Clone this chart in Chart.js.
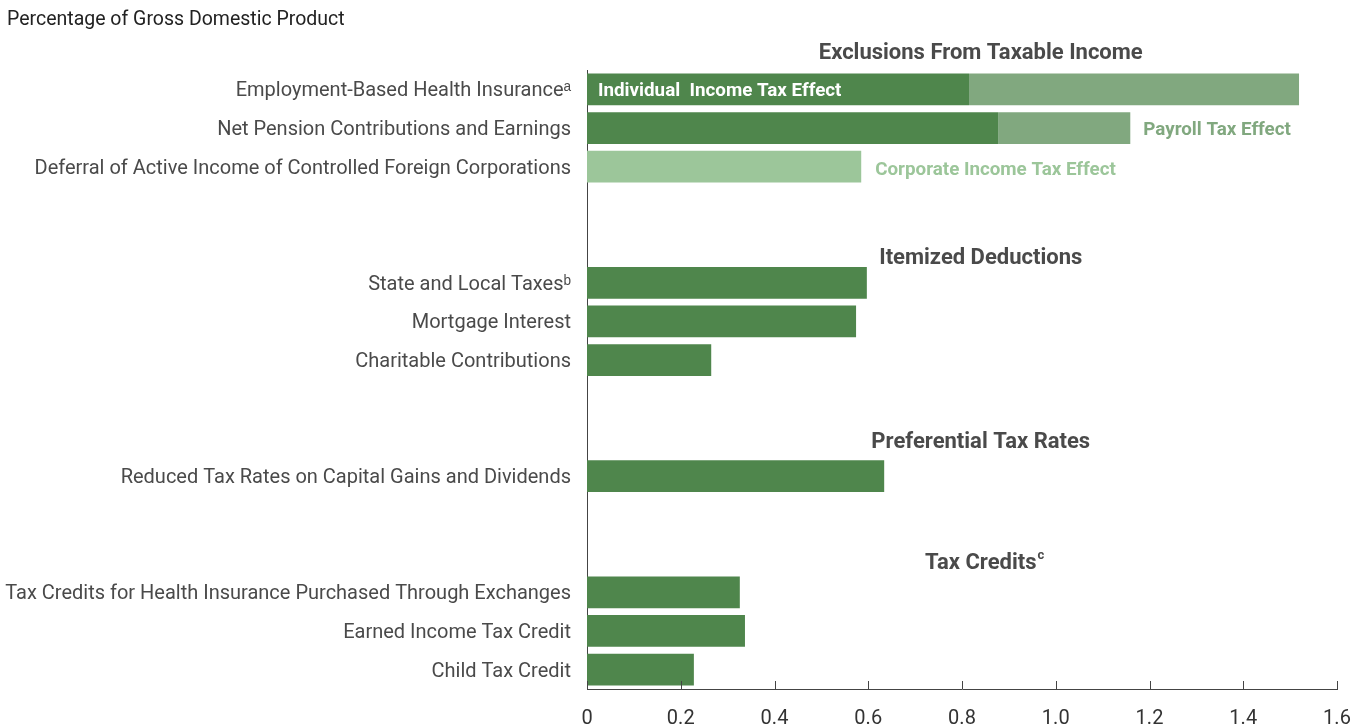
<!DOCTYPE html>
<html>
<head>
<meta charset="utf-8">
<script src="https://cdn.jsdelivr.net/npm/chart.js@4.4.1/dist/chart.umd.min.js"></script>
<style>
  html, body { margin: 0; padding: 0; background: #fff; }
  #wrap { position: relative; width: 1366px; height: 727px; }
</style>
</head>
<body>
<div id="wrap"><canvas id="taxChart" width="1366" height="727"></canvas></div>
<script>
// Rows of the chart (empty strings are the gaps between groups)
const categories = [
  "Employment-Based Health Insurance\u1D43",
  "Net Pension Contributions and Earnings",
  "Deferral of Active Income of Controlled Foreign Corporations",
  "", "",
  "State and Local Taxes\u1D47",
  "Mortgage Interest",
  "Charitable Contributions",
  "", "",
  "Reduced Tax Rates on Capital Gains and Dividends",
  "", "",
  "Tax Credits for Health Insurance Purchased Through Exchanges",
  "Earned Income Tax Credit",
  "Child Tax Credit"
];

// Percentage of GDP
const individualEffect = [0.815, 0.877, null, null, null, 0.597, 0.574, 0.265, null, null, 0.634, null, null, 0.326, 0.337, 0.228];
const payrollEffect    = [0.704, 0.282, null, null, null, null, null, null, null, null, null, null, null, null, null, null];
const corporateEffect  = [null, null, 0.585, null, null, null, null, null, null, null, null, null, null, null, null, null];

const xTicks = [0, 0.2, 0.4, 0.6, 0.8, 1.0, 1.2, 1.4, 1.6];

// group headings: [text, superscript, row position]
const groupTitles = [
  ["Exclusions From Taxable Income", "", -0.97],
  ["Itemized Deductions", "", 4.33],
  ["Preferential Tax Rates", "", 9.07],
  ["Tax Credits", "c", 12.2]
];

const DARK = "#4f864c";
const MID = "#81a87f";
const LIGHT = "#9cc69a";
const FONT = "Roboto, 'Liberation Sans', sans-serif";

const extras = {
  id: "extras",
  afterDraw(chart) {
    const ctx = chart.ctx;
    const x = chart.scales.x, y = chart.scales.y;
    ctx.save();

    // header
    ctx.fillStyle = "#222";
    ctx.font = "19.5px " + FONT;
    ctx.textAlign = "left";
    ctx.textBaseline = "middle";
    ctx.fillText("Percentage of Gross Domestic Product", 7, 20);

    // x tick marks pointing up into the plot
    ctx.strokeStyle = "#444";
    ctx.lineWidth = 1;
    xTicks.forEach(v => {
      const px = Math.round(x.getPixelForValue(v)) + 0.5;
      ctx.beginPath();
      ctx.moveTo(px, y.bottom - 8);
      ctx.lineTo(px, y.bottom);
      ctx.stroke();
    });

    // group titles
    ctx.fillStyle = "#4a4a4a";
    ctx.textAlign = "center";
    const cx = x.getPixelForValue(0.84);
    groupTitles.forEach(([t, sup, row]) => {
      const py = y.getPixelForValue(row) + 2;
      ctx.font = "bold 22px " + FONT;
      ctx.fillText(t, cx, py);
      if (sup) {
        const w = ctx.measureText(t).width;
        ctx.font = "bold 13px " + FONT;
        ctx.textAlign = "left";
        ctx.fillText(sup, cx + w / 2 + 1, py - 8);
        ctx.textAlign = "center";
      }
    });

    // series annotations
    ctx.font = "bold 18.8px " + FONT;
    ctx.textAlign = "left";
    ctx.fillStyle = "#fff";
    ctx.fillText("Individual  Income Tax Effect", x.left + 11, y.getPixelForValue(0) + 2);
    ctx.fillStyle = MID;
    ctx.fillText("Payroll Tax Effect", x.getPixelForValue(individualEffect[1] + payrollEffect[1]) + 13, y.getPixelForValue(1) + 2);
    ctx.fillStyle = LIGHT;
    ctx.fillText("Corporate Income Tax Effect", x.getPixelForValue(corporateEffect[2]) + 14, y.getPixelForValue(2) + 4);

    ctx.restore();
  }
};

const data = {
  labels: categories,
  datasets: [
    { label: "Individual Income Tax Effect", data: individualEffect, backgroundColor: DARK },
    { label: "Payroll Tax Effect", data: payrollEffect, backgroundColor: MID },
    { label: "Corporate Income Tax Effect", data: corporateEffect, backgroundColor: LIGHT }
  ]
};

const config = {
  type: "bar",
  data: data,
  options: {
    indexAxis: "y",
    responsive: false,
    animation: false,
    events: [],
    datasets: { bar: { barPercentage: 0.82, categoryPercentage: 1, borderWidth: 0 } },
    layout: { padding: { left: 0, right: 29, top: 70, bottom: 0 } },
    plugins: { legend: { display: false }, tooltip: { enabled: false } },
    scales: {
      x: {
        stacked: true,
        min: 0, max: 1.6,
        grid: { display: false, drawTicks: false },
        border: { display: true, color: "#444", width: 1 },
        afterBuildTicks: s => { s.ticks = xTicks.map(v => ({ value: v })); },
        afterFit: s => { s.height = 38; s.paddingLeft = 0; s.paddingRight = 0; },
        ticks: {
          padding: 18,
          color: "#333",
          font: { family: FONT, size: 20 },
          callback: v => v === 0 ? "0" : v.toFixed(1)
        }
      },
      y: {
        stacked: true,
        grid: { display: false, drawTicks: false },
        border: { display: true, color: "#444", width: 1 },
        afterFit: s => { s.width = 587; },
        ticks: {
          padding: 16,
          labelOffset: 2,
          color: "#4a4a4a",
          autoSkip: false,
          font: { family: FONT, size: 20 }
        }
      }
    }
  },
  plugins: [extras]
};

window.addEventListener("DOMContentLoaded", () => {
  new Chart(document.getElementById("taxChart"), config);
});
</script>
</body>
</html>
